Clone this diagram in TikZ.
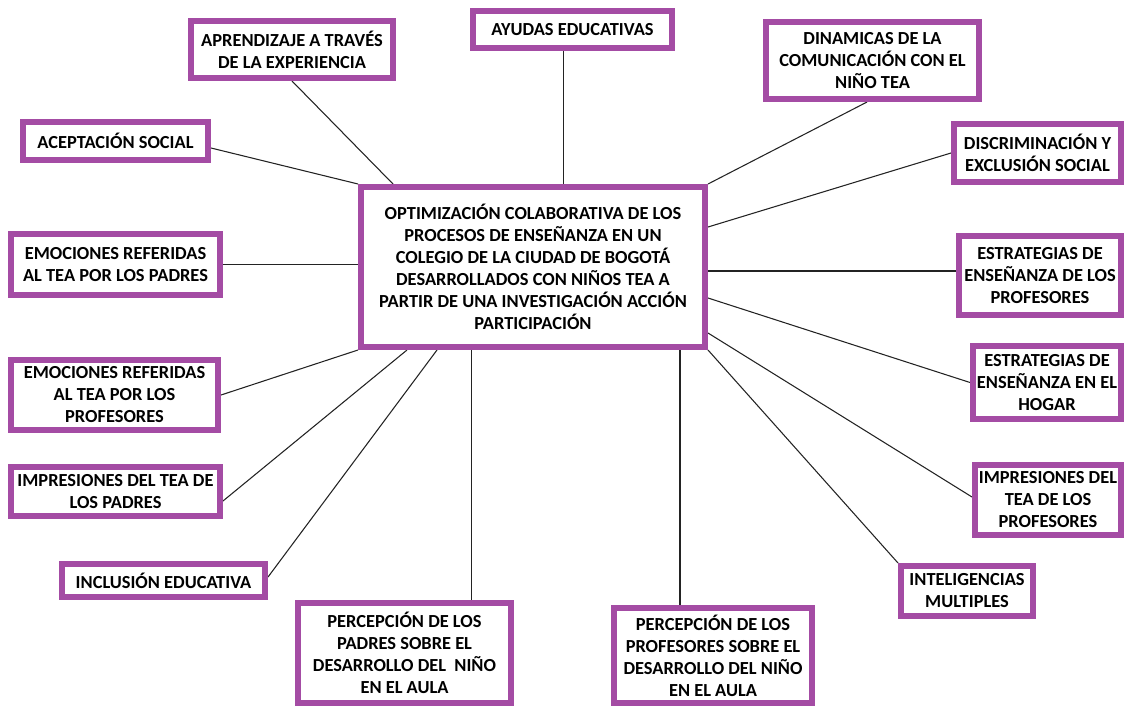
\documentclass[tikz,border=0pt]{standalone}
\usepackage{fontspec}
\setmainfont{Carlito}
\usetikzlibrary{backgrounds}
\definecolor{boxpurple}{RGB}{164,76,164}
\definecolor{linegray}{RGB}{35,35,35}
\begin{document}
\begin{tikzpicture}[x=0.75pt,y=-0.75pt,
  box/.style={draw=boxpurple, line width=4.5pt, fill=white, align=center, inner sep=0pt,
    font={\bfseries\fontsize{13.8pt}{16.5pt}\selectfont}},
  link/.style={draw=linegray, line width=0.8pt}]
\useasboundingbox (0,0) rectangle (1126,707);

% central node
\node[box, minimum width=258pt, minimum height=120pt] (ctr) at (533,267)
  {OPTIMIZACIÓN COLABORATIVA DE LOS\\PROCESOS DE ENSEÑANZA EN UN\\COLEGIO DE LA CIUDAD DE BOGOTÁ\\DESARROLLADOS CON NIÑOS TEA A\\PARTIR DE UNA INVESTIGACIÓN ACCIÓN\\PARTICIPACIÓN};

% surrounding nodes
\node[box, minimum width=151.5pt, minimum height=42.75pt] (apr) at (292,49.5) {APRENDIZAJE A TRAVÉS\\DE LA EXPERIENCIA};
\node[box, minimum width=138.75pt, minimum height=28.5pt] (ace) at (115.5,141) {ACEPTACIÓN SOCIAL};
\node[box, minimum width=149.25pt, minimum height=27.75pt] (ayu) at (572.5,29.5) {AYUDAS EDUCATIVAS};
\node[box, minimum width=159.75pt, minimum height=57.75pt] (din) at (872.5,60.5) {DINAMICAS DE LA\\COMUNICACIÓN CON EL\\NIÑO TEA};
\node[box, minimum width=125.25pt, minimum height=43.5pt] (dis) at (1037.5,153) {DISCRIMINACIÓN Y\\EXCLUSIÓN SOCIAL};
\node[box, minimum width=156.75pt, minimum height=45.75pt] (emp) at (115.5,264.5) {EMOCIONES REFERIDAS\\AL TEA POR LOS PADRES};
\node[box, minimum width=155.25pt, minimum height=52.5pt] (emf) at (114.5,395) {EMOCIONES REFERIDAS\\AL TEA POR LOS\\PROFESORES};
\node[box, minimum width=156.75pt, minimum height=36.75pt] (imp) at (115.5,491.5) {IMPRESIONES DEL TEA DE\\LOS PADRES};
\node[box, minimum width=152.25pt, minimum height=24.75pt] (inc) at (163.5,580.5) {INCLUSIÓN EDUCATIVA};
\node[box, minimum width=159.75pt, minimum height=75pt] (ppa) at (404.5,653) {PERCEPCIÓN DE LOS\\PADRES SOBRE EL\\DESARROLLO DEL \ NIÑO\\EN EL AULA};
\node[box, minimum width=148.5pt, minimum height=71.25pt] (ppr) at (713,655.5) {PERCEPCIÓN DE LOS\\PROFESORES SOBRE EL\\DESARROLLO DEL NIÑO\\EN EL AULA};
\node[box, minimum width=121.5pt, minimum height=59.25pt] (esp) at (1040,275.5) {ESTRATEGIAS DE\\ENSEÑANZA DE LOS\\PROFESORES};
\node[box, minimum width=111pt, minimum height=54.75pt] (esh) at (1047,382.5) {ESTRATEGIAS DE\\ENSEÑANZA EN EL\\HOGAR};
\node[box, minimum width=109.5pt, minimum height=52.5pt] (ipr) at (1048,500) {IMPRESIONES DEL\\TEA DE LOS\\PROFESORES};
\node[box, minimum width=99pt, minimum height=37.5pt] (int) at (967,591) {INTELIGENCIAS\\MULTIPLES};

% connectors
\begin{pgfonlayer}{background}
\draw[link] (apr.south) -- ([xshift=26.25pt]ctr.north west);
\draw[link] ([yshift=-5.25pt]ace.east) -- (ctr.north west);
\draw[link] ([xshift=-7.1pt]ayu.south) coordinate (ta) -- (ta |- ctr.north);
\draw[link] ([xshift=-4.1pt]din.south) -- (ctr.north east);
\draw[link] (dis.west) -- ([yshift=30pt]ctr.east);
\draw[link] (emp.east) -- (emp.east -| ctr.west);
\draw[link] (emf.east) -- (ctr.south west);
\draw[link] ([yshift=-7.1pt]imp.east) -- ([xshift=36.75pt]ctr.south west);
\draw[link] ([yshift=2.6pt]inc.east) -- ([xshift=59.25pt]ctr.south west);
\draw[link] ([xshift=49.9pt]ppa.north) coordinate (tb) -- (tb |- ctr.south);
\draw[link] ([xshift=-24.75pt]ppr.north) coordinate (tc) -- (tc |- ctr.south);
\draw[link] ([yshift=3.4pt]esp.west) coordinate (td) -- (td -| ctr.east);
\draw[link] (esh.west) -- ([yshift=-23.25pt]ctr.east);
\draw[link] ([yshift=2.25pt]ipr.west) -- ([yshift=-49.5pt]ctr.east);
\draw[link] (int.north west) -- (ctr.south east);
\end{pgfonlayer}
\end{tikzpicture}
\end{document}
